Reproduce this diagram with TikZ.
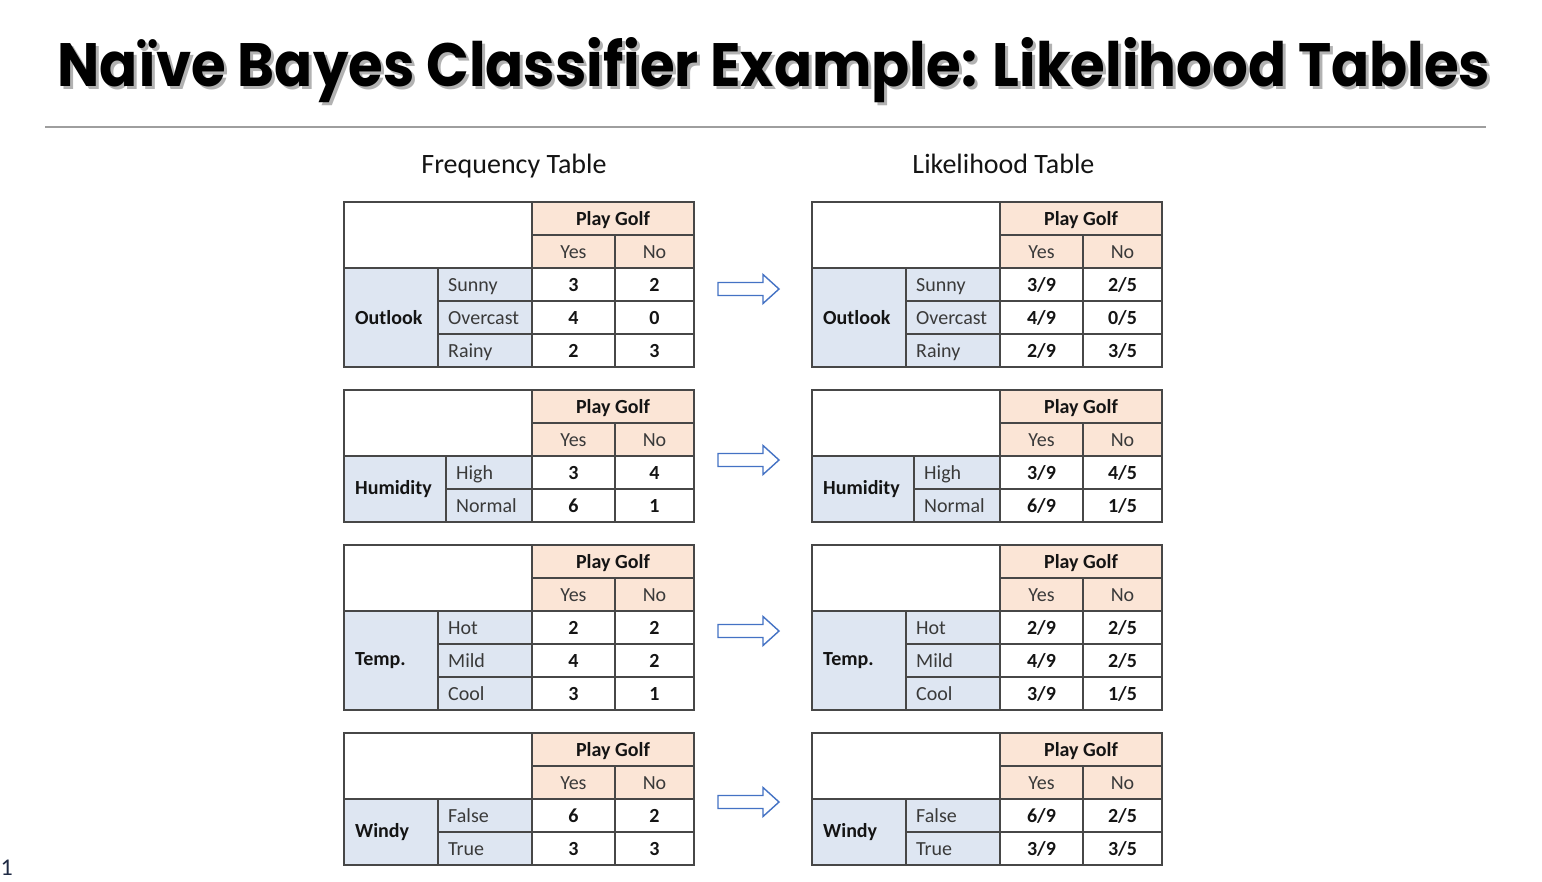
\documentclass[tikz,border=0pt]{standalone}
\usepackage{fontspec}
\usepackage{graphicx}
\setmainfont{Carlito}
\newfontfamily\titlefont{Poppins}
\definecolor{hdrfill}{HTML}{FBE5D6}
\definecolor{lblfill}{HTML}{DEE6F2}
\definecolor{gridcol}{HTML}{474747}
\definecolor{arrblue}{HTML}{4472C4}
\definecolor{txtgray}{HTML}{3A3A3A}
\definecolor{txtdark}{HTML}{141414}
\definecolor{numblue}{HTML}{1F2A44}
\tikzset{
  grid/.style={draw=gridcol, line width=1.6pt},
  lbltext/.style={inner sep=0pt, text=txtgray, font=\fontsize{20}{22}\selectfont},
  boldtext/.style={inner sep=0pt, text=txtdark, font=\fontsize{20}{22}\selectfont\bfseries},
  subtitle/.style={inner sep=0pt, text=txtdark, font=\fontsize{28}{32}\selectfont},
  blockarrow/.style={draw=arrblue, line width=1.4pt, fill=white, line join=miter},
}
% #1 name prefix, #2 left x, #3 top y, #4 split x (relative), #5 label, #6 rows
\newcommand\mytab[6]{%
\begin{scope}[shift={(#2,#3)}]
  \fill[hdrfill] (188,0) rectangle (350,66);
  \foreach \lab/\a/\b [count=\i] in {#6} {
    \pgfmathsetmacro\ya{66+33*(\i-1)}
    \pgfmathsetmacro\yb{66+33*\i}
    \fill[lblfill] (#4,\ya) rectangle (188,\yb);
    \xdef\nrows{\i}
  }
  \pgfmathsetmacro\ybot{66+33*\nrows}
  \fill[lblfill] (0,66) rectangle (#4,\ybot);
  \draw[grid] (0,0) rectangle (188,66);
  \draw[grid] (188,0) rectangle (350,33);
  \draw[grid] (188,33) rectangle (271,66) (271,33) rectangle (350,66);
  \draw[grid] (0,66) rectangle (#4,\ybot);
  \node[boldtext, anchor=base] (#1pg) at (269,23) {Play Golf};
  \node[lbltext, anchor=base] (#1yes) at (229.5,56) {Yes};
  \node[lbltext, anchor=base] (#1no) at (310.5,56) {No};
  \node[boldtext, anchor=west] (#1lab) at (11,{(66+\ybot)/2}) {#5};
  \foreach \lab/\a/\b [count=\i] in {#6} {
    \pgfmathsetmacro\ya{66+33*(\i-1)}
    \pgfmathsetmacro\yb{66+33*\i}
    \draw[grid] (#4,\ya) rectangle (188,\yb) (188,\ya) rectangle (271,\yb) (271,\ya) rectangle (350,\yb);
    \node[lbltext, anchor=base west] (#1r\i) at (#4+10,\ya+23) {\lab};
    \node[boldtext, anchor=base] (#1y\i) at (229.5,\ya+23) {\a};
    \node[boldtext, anchor=base] (#1n\i) at (310.5,\ya+23) {\b};
  }
\end{scope}}
\newcommand\blkarrow[1]{%
  \draw[blockarrow] ([shift={(-30.5,-6.5)}]#1) -- ([shift={(14.5,-6.5)}]#1) -- ([shift={(14.5,-14.5)}]#1)
    -- ([shift={(30.5,0)}]#1) -- ([shift={(14.5,14.5)}]#1) -- ([shift={(14.5,6.5)}]#1)
    -- ([shift={(-30.5,6.5)}]#1) -- cycle;}
\begin{document}
\begin{tikzpicture}[x=1pt,y=-1pt]
\useasboundingbox (0,0) rectangle (1542,881);
\fill[white] (0,0) rectangle (1542,881);
% title
\node[inner sep=0pt, anchor=base, text=black!30] (titleshadow) at (777,89)
  {\resizebox{1432pt}{49pt}{\titlefont\bfseries Naïve Bayes Classifier Example: Likelihood Tables}};
\node[inner sep=0pt, anchor=base, text=black] (title) at (774,86)
  {\resizebox{1432pt}{49pt}{\titlefont\bfseries Naïve Bayes Classifier Example: Likelihood Tables}};
\coordinate (ruleL) at (45,127);
\coordinate (ruleR) at (1486,127);
\draw[black!38, line width=1.3pt] (ruleL) -- (ruleR);
% subtitles
\node[subtitle, anchor=base] (freqt) at (514,173) {Frequency Table};
\node[subtitle, anchor=base] (likt) at (1003.5,173) {Likelihood Table};
% frequency tables
\mytab{fa}{344}{202}{94}{Outlook}{Sunny/3/2,Overcast/4/0,Rainy/2/3}
\mytab{fb}{344}{390}{102}{Humidity}{High/3/4,Normal/6/1}
\mytab{fc}{344}{545}{94}{Temp.}{Hot/2/2,Mild/4/2,Cool/3/1}
\mytab{fd}{344}{733}{94}{Windy}{False/6/2,True/3/3}
% likelihood tables
\mytab{la}{812}{202}{94}{Outlook}{Sunny/3\slash 9/2\slash 5,Overcast/4\slash 9/0\slash 5,Rainy/2\slash 9/3\slash 5}
\mytab{lb}{812}{390}{102}{Humidity}{High/3\slash 9/4\slash 5,Normal/6\slash 9/1\slash 5}
\mytab{lc}{812}{545}{94}{Temp.}{Hot/2\slash 9/2\slash 5,Mild/4\slash 9/2\slash 5,Cool/3\slash 9/1\slash 5}
\mytab{ld}{812}{733}{94}{Windy}{False/6\slash 9/2\slash 5,True/3\slash 9/3\slash 5}
% arrows
\coordinate (arr1) at (748.5,289);
\coordinate (arr2) at (748.5,460);
\coordinate (arr3) at (748.5,631);
\coordinate (arr4) at (748.5,802);
\blkarrow{arr1}
\blkarrow{arr2}
\blkarrow{arr3}
\blkarrow{arr4}
% slide number
\node[inner sep=0pt, anchor=base west, text=numblue, font=\fontsize{24}{26}\selectfont] (slidenum) at (0.5,875) {1};
\end{tikzpicture}
\end{document}
